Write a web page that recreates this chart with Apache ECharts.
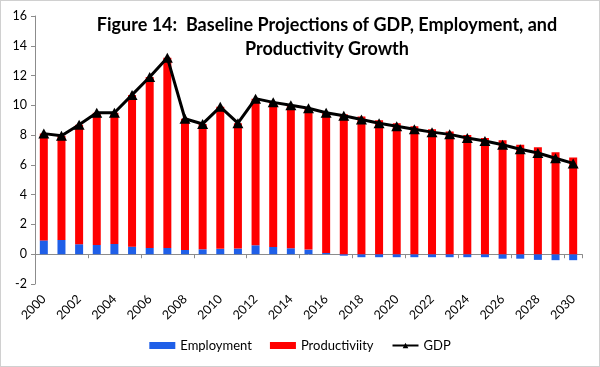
<!DOCTYPE html>
<html>
<head>
<meta charset="utf-8">
<script src="https://cdn.jsdelivr.net/npm/echarts@6/dist/echarts.min.js"></script>
<style>
html,body{margin:0;padding:0;background:#fff;}
#c{width:600px;height:367px;box-sizing:border-box;border:1px solid #d0d0d0;}
</style>
</head>
<body>
<div id="c"></div>
<script>
const years = ['2000','2001','2002','2003','2004','2005','2006','2007','2008','2009','2010','2011','2012','2013','2014','2015','2016','2017','2018','2019','2020','2021','2022','2023','2024','2025','2026','2027','2028','2029','2030'];
const employment = [0.93,0.96,0.67,0.62,0.69,0.51,0.42,0.42,0.29,0.33,0.36,0.38,0.6,0.49,0.4,0.31,0.09,-0.1,-0.2,-0.2,-0.2,-0.2,-0.2,-0.2,-0.2,-0.2,-0.3,-0.3,-0.38,-0.4,-0.4];
const productivity = [7.17,6.99,8.03,8.88,8.81,10.19,11.48,12.78,8.81,8.42,9.54,8.42,9.85,9.71,9.6,9.49,9.41,9.4,9.25,9.0,8.8,8.6,8.4,8.25,8.0,7.8,7.65,7.35,7.18,6.85,6.5];
const gdp = [8.1,7.95,8.7,9.5,9.5,10.7,11.9,13.2,9.1,8.75,9.9,8.8,10.45,10.2,10.0,9.8,9.5,9.3,9.05,8.8,8.6,8.4,8.2,8.05,7.8,7.6,7.35,7.05,6.8,6.45,6.1];
const titleLines = ['Figure 14:  Baseline Projections of GDP, Employment, and', 'Productivity Growth'];

const FONT = 'Lato, "Open Sans", sans-serif';
const chart = echarts.init(document.getElementById('c'), null, {renderer: 'canvas'});
chart.setOption({
  animation: false,
  textStyle: {fontFamily: FONT},
  graphic: [{
    type: 'text', x: 326, y: 12,
    style: {text: titleLines.join('\n'), textAlign: 'center', font: 'bold 18px ' + FONT, lineHeight: 24, fill: '#000'}
  }],
  grid: {left: 34, right: 17, top: 15, bottom: 82, containLabel: false},
  legend: {
    bottom: 9, left: 'center', itemWidth: 26, itemHeight: 7, itemGap: 18,
    textStyle: {fontSize: 13, color: '#000', fontFamily: FONT},
    data: [
      {name: 'Employment', icon: 'rect'},
      {name: 'Productiviity', icon: 'rect'},
      {name: 'GDP'}
    ]
  },
  xAxis: [{
    type: 'category', data: years, position: 'bottom',
    axisLine: {onZero: true, lineStyle: {color: '#8c8c8c', width: 1}},
    axisTick: {show: true, length: 4, lineStyle: {color: '#8c8c8c'}},
    axisLabel: {show: false}
  }, {
    type: 'category', data: years, position: 'bottom',
    axisLine: {show: false}, axisTick: {show: false},
    axisLabel: {interval: 1, rotate: 45, fontSize: 12.5, color: '#000', margin: 13, fontFamily: FONT}
  }],
  yAxis: {
    type: 'value', min: -2, max: 16, interval: 2,
    splitLine: {show: false},
    axisLine: {show: true, lineStyle: {color: '#8c8c8c'}},
    axisTick: {show: true, length: 4, lineStyle: {color: '#8c8c8c'}},
    axisLabel: {fontSize: 12.5, color: '#000', margin: 8, fontFamily: FONT}
  },
  series: [{
    name: 'Employment', type: 'bar', stack: 'a', data: employment, barWidth: 8,
    itemStyle: {color: '#1f5fe8'}
  }, {
    name: 'Productiviity', type: 'bar', stack: 'a', data: productivity, barWidth: 8,
    itemStyle: {color: '#ff0000'}
  }, {
    name: 'GDP', type: 'line', data: gdp, symbol: 'triangle', symbolSize: [11, 10],
    lineStyle: {color: '#000', width: 3}, itemStyle: {color: '#000'}, z: 5
  }]
});
</script>
</body>
</html>
